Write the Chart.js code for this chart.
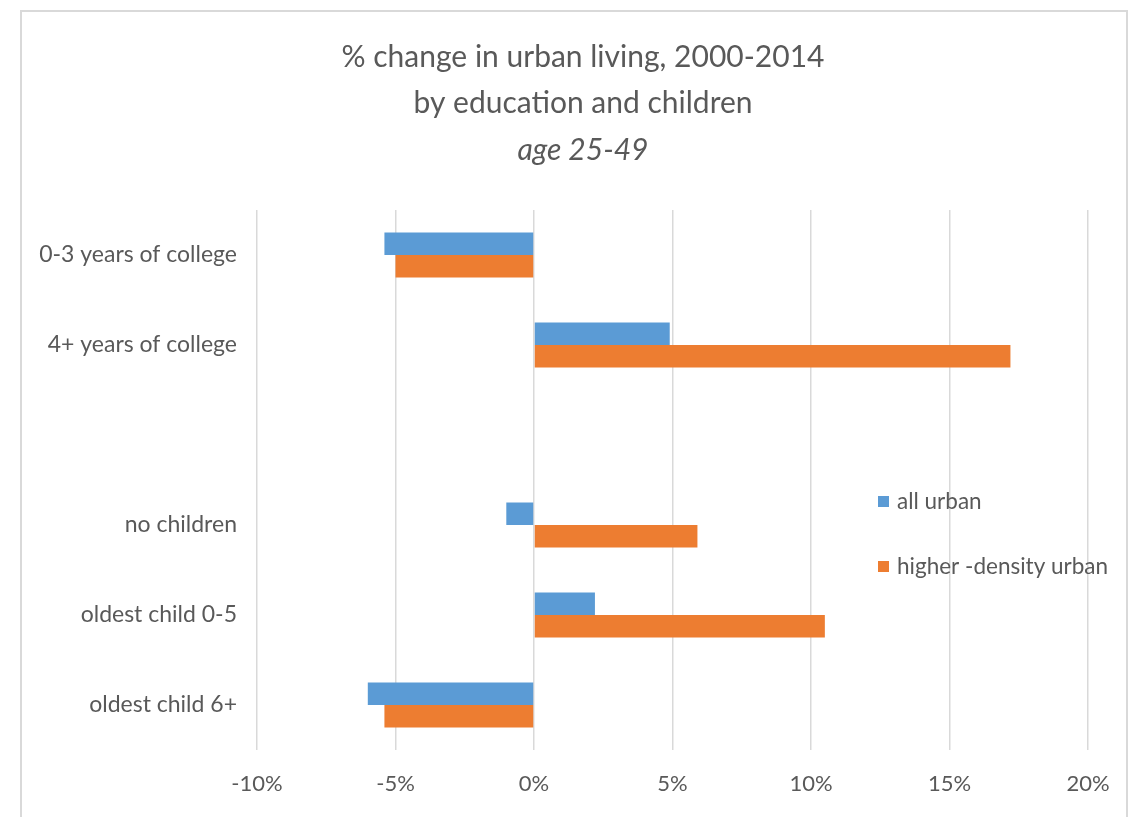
<!DOCTYPE html>
<html>
<head>
<meta charset="utf-8">
<title>% change in urban living, 2000-2014</title>
<script src="https://cdn.jsdelivr.net/npm/chart.js@4/dist/chart.umd.min.js"></script>
<style>
    html, body { margin: 0; padding: 0; background: #fff; }
    #wrap { position: relative; width: 1148px; height: 817px; overflow: hidden; }
    #frame {
        position: absolute; left: 20px; top: 10px; width: 1108px; height: 830px;
        border: 2px solid #d9d9d9; box-sizing: border-box;
    }
    #myChart { position: absolute; left: 0; top: 0; }
</style>
</head>
<body>
<div id="wrap">
    <div id="frame"></div>
    <canvas id="myChart" width="1148" height="817"></canvas>
</div>
<script>
'use strict'

// ------------------------- Data -------------------------------------- //
const categories = [
    '0-3 years of college',
    '4+ years of college',
    '',
    'no children',
    'oldest child 0-5',
    'oldest child 6+'
];
const allUrban      = [-5.4,  4.9, null, -1.0,  2.2, -6.0];
const higherDensity = [-5.0, 17.2, null,  5.9, 10.5, -5.4];
const seriesNames   = ['all urban', 'higher -density urban'];
const xTicksMin = -10;
const xTicksMax = 20;
const xTicksStep = 5;

const colors = ['#5B9BD5', '#ED7D31'];
const textColor = '#595959';
const fontFamily = 'Lato, "Open Sans", sans-serif';

// ------------------------- Funciones -------------------------------------- //
function createDataset (label, values, color) {
    let dataset = {};
    dataset.label = label;
    dataset.data = values;
    dataset.backgroundColor = color;
    dataset.borderWidth = 0;
    dataset.barPercentage = 1;
    dataset.categoryPercentage = 0.5;
    return dataset;
}

// title block is centred a bit right of the canvas middle, like the original
const shiftTitle = {
    id: 'shiftTitle',
    afterLayout(chart) {
        chart.boxes.forEach(function (box) {
            if (box.position === 'top') {
                box.left = 78;
            }
        });
    }
};

// legend drawn inside the plot area, on the right
const insideLegend = {
    id: 'insideLegend',
    afterDraw(chart) {
        const ctx = chart.ctx;
        const area = chart.chartArea;
        const x = area.right - 210;
        let y = area.top + 292;
        ctx.save();
        ctx.font = '22.5px ' + fontFamily;
        ctx.textBaseline = 'middle';
        ctx.textAlign = 'left';
        chart.data.datasets.forEach(function (ds) {
            ctx.fillStyle = ds.backgroundColor;
            ctx.fillRect(x, y - 6, 11, 11);
            ctx.fillStyle = textColor;
            ctx.fillText(ds.label, x + 19, y);
            y += 65;
        });
        ctx.restore();
    }
};

function plotData () {
    const ctx = document.getElementById('myChart').getContext('2d');
    return new Chart(ctx, {
        type: 'bar',
        data: {
            labels: categories,
            datasets: [
                createDataset(seriesNames[0], allUrban, colors[0]),
                createDataset(seriesNames[1], higherDensity, colors[1])
            ]
        },
        options: {
            indexAxis: 'y',
            responsive: false,
            animation: false,
            layout: { padding: { left: 0, right: 60, top: 0, bottom: 0 } },
            scales: {
                x: {
                    min: xTicksMin,
                    max: xTicksMax,
                    border: { display: false },
                    grid: { color: '#d9d9d9', lineWidth: 1.5, drawTicks: false },
                    ticks: {
                        stepSize: xTicksStep,
                        padding: 21,
                        color: textColor,
                        font: { family: fontFamily, size: 22 },
                        callback: function (v) { return v + '%'; }
                    },
                    afterFit: function (scale) { scale.height = 67; }
                },
                y: {
                    border: { display: false },
                    grid: { display: false, drawTicks: false },
                    ticks: {
                        padding: 20,
                        color: textColor,
                        font: { family: fontFamily, size: 23 }
                    },
                    afterFit: function (scale) { scale.width = 257; }
                }
            },
            plugins: {
                legend: { display: false },
                tooltip: { enabled: false },
                title: {
                    display: true,
                    text: ['% change in urban living, 2000-2014', 'by education and children'],
                    color: textColor,
                    font: { family: fontFamily, size: 30, weight: 'normal', lineHeight: 46 / 30 },
                    padding: { top: 34, bottom: 0 }
                },
                subtitle: {
                    display: true,
                    text: 'age 25-49',
                    color: textColor,
                    font: { family: fontFamily, size: 30, style: 'italic', lineHeight: 46 / 30 },
                    padding: { top: 1, bottom: 37 }
                }
            }
        },
        plugins: [shiftTitle, insideLegend]
    });
}

// ------------------------------ Main ------------------------------ //
plotData();
</script>
</body>
</html>
